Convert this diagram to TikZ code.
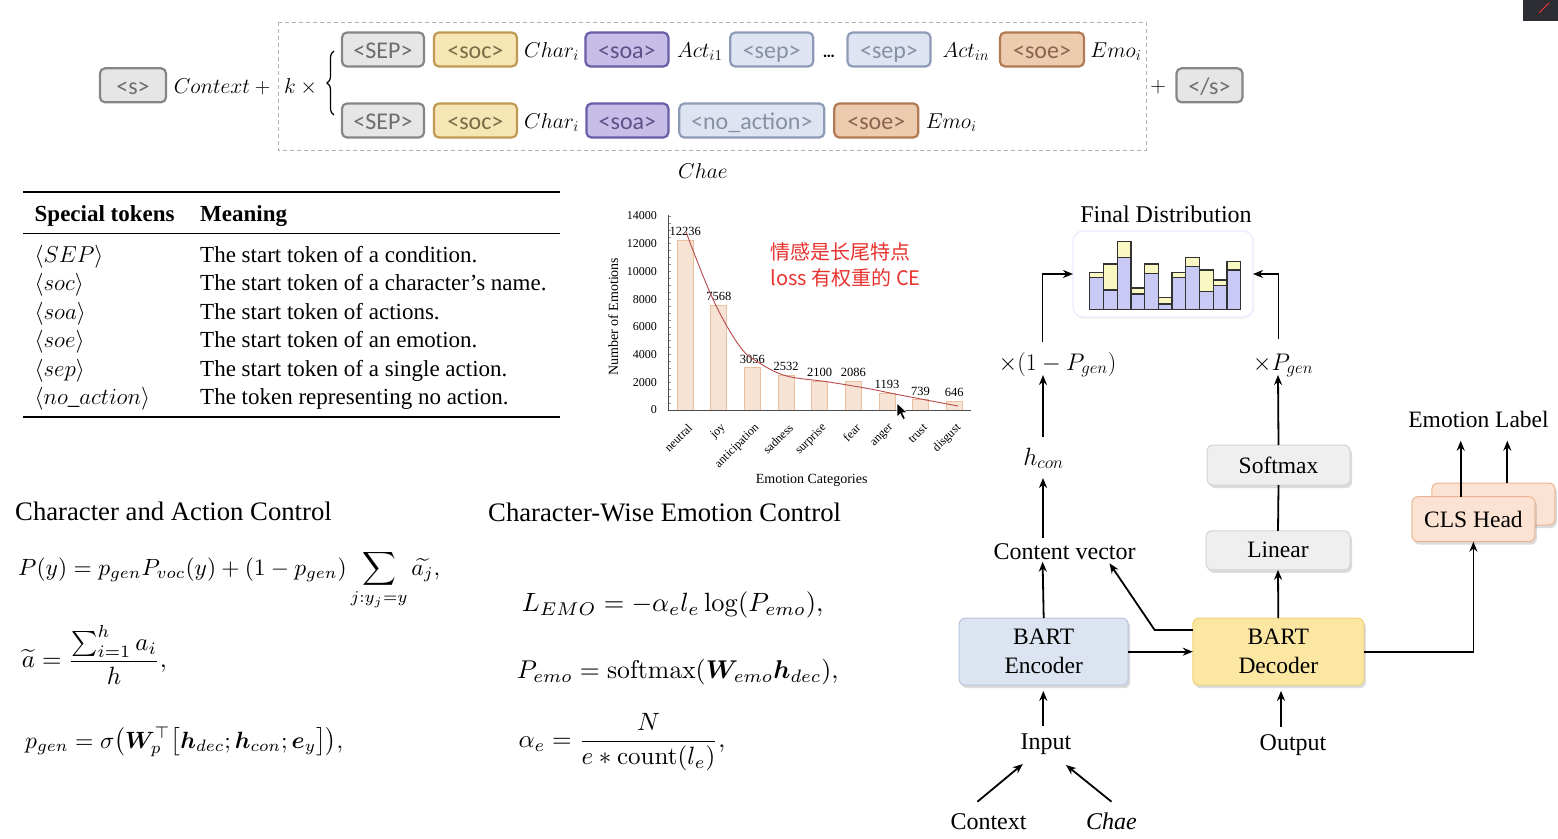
\RequirePackage{fix-cm}
\documentclass[tikz,border=0pt]{standalone}
\usepackage{amsmath,amssymb,bm}
\usepackage{graphicx}
\usepackage[no-math]{fontspec}
\setmainfont{Liberation Serif}
\newfontfamily\tokfont{Carlito}
\newfontfamily\cjkfont{Noto Sans CJK SC}
\usetikzlibrary{arrows.meta,shadows,decorations.pathreplacing,calc}
\newcommand{\myfs}[2]{\fontsize{#1}{#2}\selectfont}
\definecolor{sepF}{HTML}{E6E6E6}\definecolor{sepD}{HTML}{868686}\definecolor{sepT}{HTML}{6E6E6E}
\definecolor{socF}{HTML}{F6E6B4}\definecolor{socD}{HTML}{BF9A55}\definecolor{socT}{HTML}{7D6A48}
\definecolor{soaF}{HTML}{C7BEE8}\definecolor{soaD}{HTML}{6A5CA6}\definecolor{soaT}{HTML}{5C5288}
\definecolor{spF}{HTML}{DEE4F2}\definecolor{spD}{HTML}{8E9BB6}\definecolor{spT}{HTML}{8890A4}
\definecolor{soeF}{HTML}{EDCBAE}\definecolor{soeD}{HTML}{B27A52}\definecolor{soeT}{HTML}{8A6450}
\definecolor{barF}{HTML}{F7E3D4}\definecolor{barD}{HTML}{E9BFA0}
\definecolor{curveC}{HTML}{B84A4A}
\definecolor{redT}{HTML}{E8322E}
\definecolor{histB}{HTML}{C8C9F4}\definecolor{histY}{HTML}{FAF8C2}
\definecolor{grF}{HTML}{EFEFEF}\definecolor{grD}{HTML}{D4D4D4}
\definecolor{encF}{HTML}{DCE3F1}\definecolor{encD}{HTML}{B9C5DD}
\definecolor{decF}{HTML}{FBE7A1}\definecolor{decD}{HTML}{EED27A}
\definecolor{clsF}{HTML}{FBE2D2}\definecolor{clsD}{HTML}{E9B592}
\definecolor{corner}{HTML}{2B2D33}
\begin{document}
\begin{tikzpicture}[x=1pt,y=-1pt,
  tok/.style={rounded corners=5pt, line width=2.2pt, minimum height=34pt, inner sep=0pt, outer sep=0pt,
     text height=17.4pt, text depth=0pt, font={\tokfont\myfs{24}{28}}},
  tSEP/.style={tok, fill=sepF, draw=sepD, text=sepT},
  tsoc/.style={tok, fill=socF, draw=socD, text=socT},
  tsoa/.style={tok, fill=soaF, draw=soaD, text=soaT},
  tsep/.style={tok, fill=spF, draw=spD, text=spT},
  tsoe/.style={tok, fill=soeF, draw=soeD, text=soeT},
  mtxt/.style={inner sep=0pt, anchor=base, font=\myfs{21.5}{26}},
  tabtxt/.style={inner sep=0pt, anchor=base west, font=\myfs{23}{28}},
  lbl/.style={inner sep=0pt, anchor=base, font=\myfs{24}{29}},
  arr/.style={line width=1.8pt, -{Stealth[length=10pt,width=8pt]}},
  ln/.style={line width=1.8pt},
  abox/.style={rounded corners=6pt, line width=1pt, inner sep=0pt, outer sep=0pt, align=center, font=\myfs{23.5}{29},
     drop shadow={opacity=0.28, shadow xshift=2pt, shadow yshift=-3pt}},
  grbox/.style={abox, fill=grF, draw=grD},
  barst/.style={fill=barF, draw=barD, line width=0.8pt},
  tick/.style={font=\myfs{12}{14}, inner sep=0pt},
]
\useasboundingbox (0,0) rectangle (1558,838);
\fill[white] (0,0) rectangle (1558,838);

% ---------- top token sequence ----------
\draw[dashed, dash pattern=on 4pt off 3pt, draw=black!30, line width=1pt] (278,22) rectangle (1146,150);
\node[tSEP, minimum width=66pt] (s0) at (133,85.3) {<s>};
\node[mtxt] (ctx0) at (224.5,93) {$Context+{}$};
\node[mtxt] (kx) at (303,93) {$k\times{}$};
\draw[decorate, decoration={brace, amplitude=7pt}, line width=1.2pt] (334,115) -- (334,51);

\node[tSEP, minimum width=82pt] (sepA) at (383,49.5) {<SEP>};
\node[tsoc, minimum width=83pt] (socA) at (475.4,49.5) {<soc>};
\node[mtxt] (charA) at (551.6,57) {$Char_i$};
\node[tsoa, minimum width=83pt] (soaA) at (626.9,49.5) {<soa>};
\node[mtxt] (actA) at (699.7,57) {$Act_{i1}$};
\node[tsep, minimum width=83pt] (spA) at (771.7,49.5) {<sep>};
\node[inner sep=0pt, anchor=base, font={\tokfont\bfseries\myfs{17}{20}}] (dots) at (829,57) {…};
\node[tsep, minimum width=83pt] (spB) at (889,49.5) {<sep>};
\node[mtxt] (actB) at (965.9,57) {$Act_{in}$};
\node[tsoe, minimum width=84pt] (soeA) at (1042,49.5) {<soe>};
\node[mtxt] (emoA) at (1115.9,57) {$Emo_i$};

\node[tSEP, minimum width=82pt] (sepB) at (383,120.5) {<SEP>};
\node[tsoc, minimum width=83pt] (socB) at (475.4,120.5) {<soc>};
\node[mtxt] (charB) at (551.6,128) {$Char_i$};
\node[tsoa, minimum width=82pt] (soaB) at (627.4,120.5) {<soa>};
\node[tsep, minimum width=145pt] (noact) at (751.8,120.5) {<no\_action>};
\node[tsoe, minimum width=84pt] (soeB) at (876.3,120.5) {<soe>};
\node[mtxt] (emoB) at (951.2,128) {$Emo_i$};

\node[mtxt] (plus) at (1158,92) {$+$};
\node[tSEP, minimum width=66pt] (s1) at (1209.5,85.3) {</s>};
\node[mtxt] (chae0) at (703,178) {$Chae$};

% ---------- table ----------
\draw[line width=2pt] (23,192) -- (560,192);
\draw[line width=1.2pt] (23,233.3) -- (560,233.3);
\draw[line width=2pt] (23,416.7) -- (560,416.7);
\node[tabtxt, font=\bfseries\myfs{23}{28}] (th1) at (34.5,221) {Special tokens};
\node[tabtxt, font=\bfseries\myfs{23}{28}] (th2) at (200,221) {Meaning};
\node[tabtxt] (r1a) at (34.5,262.5) {$\langle SEP\rangle$};
\node[tabtxt] (r1b) at (200,262.5) {The start token of a condition.};
\node[tabtxt] (r2a) at (34.5,290.9) {$\langle soc\rangle$};
\node[tabtxt] (r2b) at (200,290.9) {The start token of a character’s name.};
\node[tabtxt] (r3a) at (34.5,319.3) {$\langle soa\rangle$};
\node[tabtxt] (r3b) at (200,319.3) {The start token of actions.};
\node[tabtxt] (r4a) at (34.5,347.7) {$\langle soe\rangle$};
\node[tabtxt] (r4b) at (200,347.7) {The start token of an emotion.};
\node[tabtxt] (r5a) at (34.5,376.1) {$\langle sep\rangle$};
\node[tabtxt] (r5b) at (200,376.1) {The start token of a single action.};
\node[tabtxt] (r6a) at (34.5,404.5) {$\langle no\_action\rangle$};
\node[tabtxt] (r6b) at (200,404.5) {The token representing no action.};

% ---------- bar chart ----------
\foreach \v in {0,500,...,14000}{
  \draw[black!45, line width=0.5pt] (668,410-\v*0.013857) -- (671,410-\v*0.013857);
}
\foreach \v in {0,2000,...,14000}{
  \node[tick, anchor=east] at (657,410-\v*0.013857) {\v};
}
\foreach \i/\val/\lab in {0/12236/neutral,1/7568/joy,2/3056/anticipation,3/2532/sadness,4/2100/surprise,5/2086/fear,6/1193/anger,7/739/trust,8/646/disgust}{
  \pgfmathsetmacro\cx{685.2+\i*33.63}
  \pgfmathsetmacro\bt{410-\val*0.013857}
  \draw[barst] (\cx-8,410) rectangle (\cx+8,\bt);
  \node[tick, anchor=base, font=\myfs{12.5}{14}] at (\cx,\bt-4.5) {\val};
  \node[tick, rotate=45, anchor=east] at (\cx+5,426) {\lab};
}
\draw[black!70, line width=0.8pt] (668,410) -- (668,215);
\draw[black!70, line width=0.8pt] (668,410) -- (971,410);
\draw[curveC, line width=0.9pt] plot[smooth, tension=0.6] coordinates {(686,232) (713.3,300) (740,346.7) (760,363.3) (786.7,376) (826.7,381.7) (866.7,388.3) (900,395) (958,406)};
\node[tick, rotate=90, font=\myfs{14}{16}] (ylab) at (613.3,316.7) {Number of Emotions};
\node[tick, font=\myfs{14}{16}] (xlab) at (811.7,480) {Emotion Categories};
\node[inner sep=0pt, anchor=base west, font={\cjkfont\myfs{20}{24}}, text=redT] (cn1) at (770.5,259) {情感是长尾特点};
\node[inner sep=0pt, anchor=base west, font={\cjkfont\myfs{20}{24}}, text=redT] (cn2) at (770.5,285.5) {loss 有权重的 CE};
\filldraw[fill=black, draw=white, line width=0.6pt] (897,403) -- (897,417) -- (900.3,413.8) -- (903,419.5) -- (905.3,418.4) -- (902.6,412.8) -- (907,412.5) -- cycle;

% ---------- formulas ----------
\node[inner sep=0pt, anchor=base west, font=\myfs{26.7}{32}] (t1) at (15,520) {Character and Action Control};
\node[inner sep=0pt, anchor=base west] (f1) at (18,575) {\resizebox{422pt}{!}{$\displaystyle P(y)=p_{gen}P_{voc}(y)+(1-p_{gen})\sum_{j:y_j=y}\widetilde{a_j},$}};
\node[inner sep=0pt, anchor=base west] (f2) at (21.7,667.5) {\resizebox{145pt}{!}{$\displaystyle \widetilde{a}=\frac{\sum_{i=1}^{h}a_i}{h},$}};
\node[inner sep=0pt, anchor=base west] (f3) at (25,748) {\resizebox{318pt}{!}{$\displaystyle p_{gen}=\sigma\bigl(\bm{W}_p^{\top}\bigl[\bm{h}_{dec};\bm{h}_{con};\bm{e}_y\bigr]\bigr),$}};

\node[inner sep=0pt, anchor=base west, font=\myfs{26.7}{32}] (t2) at (488,521) {Character-Wise Emotion Control};
\node[inner sep=0pt, anchor=base west] (f4) at (521.7,611.7) {\resizebox{301.6pt}{!}{$\displaystyle L_{EMO}=-\alpha_e l_e\log(P_{emo}),$}};
\node[inner sep=0pt, anchor=base west] (f5) at (516.7,678.3) {\resizebox{321.6pt}{!}{$\displaystyle P_{emo}=\mathrm{softmax}(\bm{W}_{emo}\bm{h}_{dec}),$}};
\node[inner sep=0pt, anchor=base west] (f6) at (518.3,747.5) {\resizebox{206.7pt}{!}{$\displaystyle \alpha_e=\frac{N}{e*\mathrm{count}(l_e)},$}};

% ---------- architecture ----------
\node[lbl] (finT) at (1166,222) {Final Distribution};
\node[rounded corners=10pt, fill=white, draw=blue!8, line width=1.2pt, minimum width=180pt, minimum height=86pt, inner sep=0pt, outer sep=0pt,
      drop shadow={opacity=0.08, shadow xshift=1pt, shadow yshift=-2pt}] (dist) at (1163,274) {};
\foreach \i/\b/\yy in {0/277.3/272.7,1/290/264,2/257.3/241.7,3/294/288,4/273.3/264,5/304/297.3,6/277.3/272.7,7/266.7/257.3,8/291.7/270,9/285.7/280,10/270/261.3}{
  \pgfmathsetmacro\xl{1089.7+\i*13.73}
  \draw[fill=histY, draw=black!80, line width=1.2pt] (\xl,\yy) rectangle (\xl+13.73,\b);
  \draw[fill=histB, draw=black!80, line width=1.2pt] (\xl,\b) rectangle (\xl+13.73,309.3);
}

\node[lbl] (mulL) at (1057.5,370) {$\times(1-P_{gen})$};
\node[lbl] (mulR) at (1283,370) {$\times P_{gen}$};
\node[lbl, font=\myfs{25}{29}] (hcon) at (1043.5,465) {$h_{con}$};
\node[lbl] (cvec) at (1064.6,559.3) {Content vector};
\node[grbox, minimum width=143pt, minimum height=40pt] (soft) at (1278.5,465) {Softmax};
\node[grbox, minimum width=144pt, minimum height=39pt] (lin) at (1278,550.3) {Linear};
\node[abox, fill=encF, draw=encD, minimum width=169pt, minimum height=67pt] (enc) at (1043.7,651.7) {BART\\Encoder};
\node[abox, fill=decF, draw=decD, minimum width=171pt, minimum height=67pt] (dec) at (1278.3,651.7) {BART\\Decoder};
\node[lbl, font=\myfs{23.5}{29}] (emoL) at (1478.5,427.3) {Emotion Label};
\node[abox, fill=clsF, draw=clsD, minimum width=123pt, minimum height=42pt] (clsB) at (1493.4,504) {};
\node[abox, fill=clsF, draw=clsD, minimum width=123pt, minimum height=45pt] (cls) at (1473.4,519.2) {CLS Head};
\node[lbl] (inp) at (1046,749.3) {Input};
\node[lbl] (outp) at (1293,750) {Output};
\node[lbl] (ctx) at (988.5,829.3) {Context};
\node[lbl] (chae) at (1111.5,829.3) {\textit{Chae}};

% connectors
\draw[arr] ($(inp.base)+(-2.7,-23.3)$) -- ($(enc.south)+(-0.4,5.7)$);
\draw[arr] ($(outp.base)+(-12,-23.3)$) -- ($(dec.south)+(2.7,5.7)$);
\draw[arr] ($(ctx.base)+(-11.1,-27.6)$) -- ($(inp.base)+(-23.2,14.7)$);
\draw[arr] ($(chae.base)+(0,-27.6)$) -- ($(inp.base)+(20,15.7)$);
\draw[arr] (enc.east) -- (dec.west);
\draw[arr] (enc.north) -- ($(cvec.base)+(-22,2.4)$);
\draw[arr] ($(dec.north west)+(0,11.7)$) -- ++(-38.2,0) -- ($(cvec.base)+(44.9,4)$);
\draw[arr] (dec.north) -- (lin.south);
\draw[ln] (lin.north) -- (soft.south);
\draw[arr] (soft.north) -- ($(mulR.base)+(-5,5)$);
\draw[arr] ($(mulR.base)+(-4.5,-31)$) |- (dist.east);
\draw[arr] ($(cvec.base)+(-21.6,-21.3)$) -- ($(hcon.base)+(-0.5,13)$);
\draw[arr] ($(hcon.base)+(-0.5,-28)$) -- ($(mulL.base)+(-14.5,5)$);
\draw[arr] ($(mulL.base)+(-15,-28.3)$) |- (dist.west);
\draw[arr] (dec.east) -| (cls.south);
\draw[arr] (cls.north -| 1460.7,0) -- ($(emoL.base)+(-17.8,13.4)$);
\draw[arr] (clsB.north -| 1507.3,0) -- ($(emoL.base)+(28.8,13.4)$);

% screen corner widget
\fill[corner] (1523,0) rectangle (1558,21);
\draw[red!80, line width=1pt] (1539,13) -- (1549,3);
\end{tikzpicture}
\end{document}
